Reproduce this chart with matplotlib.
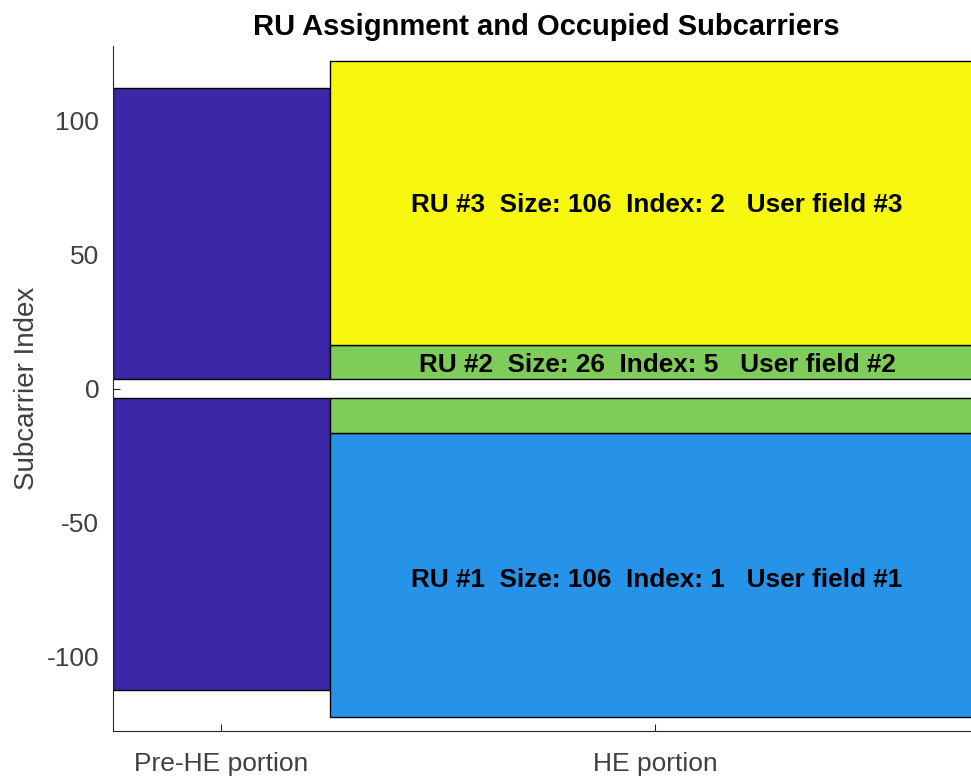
import matplotlib
matplotlib.use('Agg')
import matplotlib.pyplot as plt

plt.rcParams['font.family'] = ['Liberation Sans', 'DejaVu Sans']
plt.rcParams['axes.unicode_minus'] = False

# x 方向的两个部分
portions = ['Pre-HE portion', 'HE portion']
portion_start = [0, 1]
portion_width = [1, 3]

# Pre-HE 部分占用的子载波（上下两段，中间 DC 空隙）
pre_he_lo = [-112.5, 3.5]
pre_he_hi = [-3.5, 112.5]

# HE 部分 RU 分配
ru_lo = [-122.5, -16.5, 3.5, 16.5]
ru_hi = [-16.5, -3.5, 16.5, 122.5]
ru_of_band = [0, 1, 1, 2]
ru_colors = ['#2793e8', '#80cc5a', '#f8f80f']
ru_text = ['RU #1  Size: 106  Index: 1   User field #1',
           'RU #2  Size: 26  Index: 5   User field #2',
           'RU #3  Size: 106  Index: 2   User field #3']
ru_text_y = [-71.5, 8.7, 68.7]

yticks = [-100, -50, 0, 50, 100]

fig = plt.figure(figsize=(9.71, 7.77), dpi=100)
# 轴的右边超出画布（原图被裁剪）
ax = fig.add_axes([0.1164, 0.0586, 0.8929, 0.8822])

for lo, hi in zip(pre_he_lo, pre_he_hi):
    ax.bar(portion_start[0], hi - lo, bottom=lo, width=portion_width[0],
           align='edge', color='#3c27a6', edgecolor='black', linewidth=1,
           zorder=2)

for lo, hi, r in zip(ru_lo, ru_hi, ru_of_band):
    ax.bar(portion_start[1], hi - lo, bottom=lo, width=portion_width[1],
           align='edge', color=ru_colors[r], edgecolor='black', linewidth=1,
           zorder=2)

he_center = portion_start[1] + portion_width[1] / 2 + 0.01
for txt, y in zip(ru_text, ru_text_y):
    ax.text(he_center, y, txt, ha='center', va='center', fontsize=18.8,
            fontweight='bold', color='black', zorder=3)

ax.set_xlim(0, 4)
ax.set_ylim(-128, 128)
ax.set_xticks([s + w / 2 for s, w in zip(portion_start, portion_width)])
ax.set_xticklabels(portions)
ax.set_yticks(yticks)

ax.spines['top'].set_visible(False)
ax.spines['right'].set_visible(False)
for sp in ['left', 'bottom']:
    ax.spines[sp].set_color('#262626')
    ax.spines[sp].set_linewidth(0.8)
ax.tick_params(direction='in', length=5, width=0.8, colors='#262626',
               labelsize=19)
ax.tick_params(axis='x', pad=15)
ax.tick_params(axis='y', pad=10)
for lbl in ax.get_xticklabels() + ax.get_yticklabels():
    lbl.set_color('#404040')

ax.set_ylabel('Subcarrier Index', fontsize=20, color='#404040', labelpad=5)
ax.set_title('RU Assignment and Occupied Subcarriers', fontsize=21,
             fontweight='bold', color='black', pad=8)

fig.savefig('out.png', dpi=100)
